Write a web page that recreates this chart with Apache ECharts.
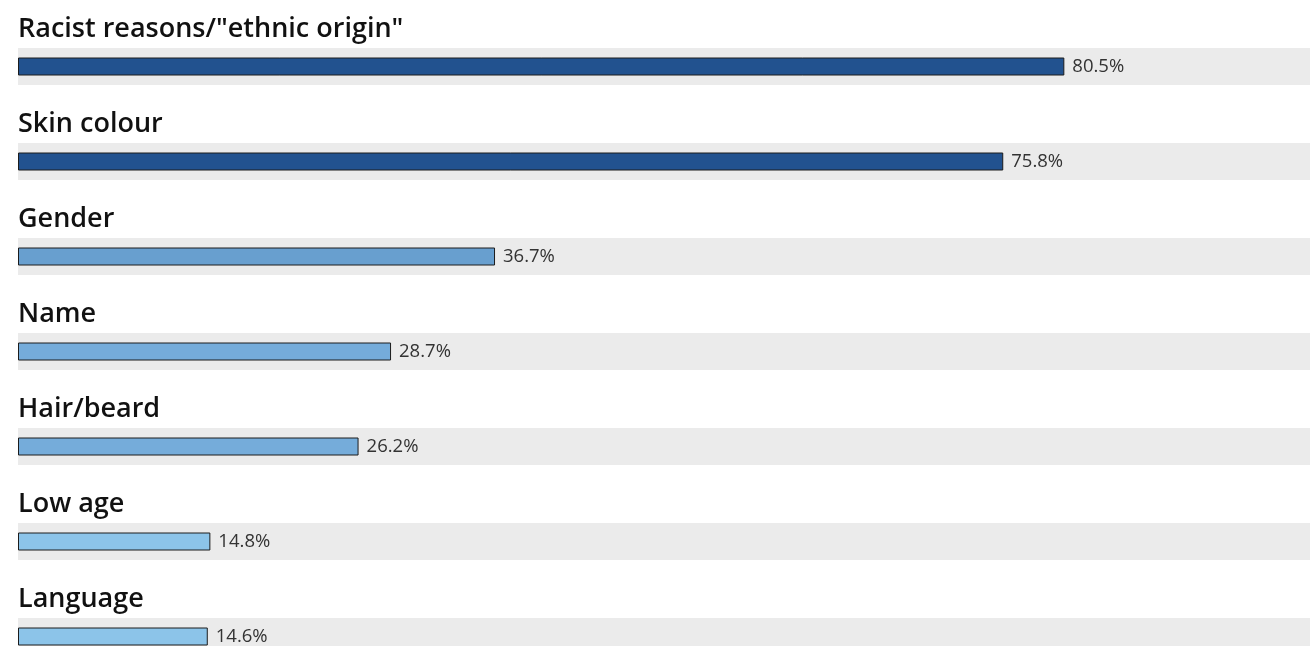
<!DOCTYPE html>
<html>
<head>
<meta charset="utf-8">
<script src="https://cdn.jsdelivr.net/npm/echarts@6/dist/echarts.min.js"></script>
<style>
  html, body { margin: 0; padding: 0; background: #ffffff; }
  #chart { width: 1310px; height: 646px; }
</style>
</head>
<body>
<div id="chart"></div>
<script>
// Reasons for discrimination, share of respondents (%)
const categories = [
  'Racist reasons/"ethnic origin"',
  'Skin colour',
  'Gender',
  'Name',
  'Hair/beard',
  'Low age',
  'Language'
];
const shares = [80.5, 75.8, 36.7, 28.7, 26.2, 14.8, 14.6];
const barColors = ['#22528f', '#22528f', '#689fcf', '#75acda', '#75acda', '#8cc4e9', '#8cc4e9'];
const bandValues = categories.map(() => 100);

const chart = echarts.init(document.getElementById('chart'), null, { renderer: 'canvas' });

chart.setOption({
  animation: false,
  backgroundColor: '#ffffff',
  // category ticks sit on the row centres (boundaryGap off)
  grid: { left: 18, right: 0, top: 66.5, bottom: 9.5, containLabel: false },
  xAxis: {
    type: 'value',
    min: 0,
    max: 99.4,
    show: false
  },
  yAxis: [
    {
      type: 'category',
      data: categories,
      inverse: true,
      boundaryGap: false,
      axisLine: { show: false },
      axisTick: { show: false },
      splitLine: { show: false },
      axisLabel: {
        inside: true,
        margin: 0,
        align: 'left',
        verticalAlign: 'bottom',
        padding: [0, 0, 24, 0],
        fontFamily: 'Open Sans',
        fontWeight: 600,
        fontSize: 27,
        color: '#111111'
      }
    },
    {
      type: 'category',
      data: categories,
      inverse: true,
      boundaryGap: false,
      show: false
    }
  ],
  series: [
    {
      name: 'band',
      type: 'bar',
      yAxisIndex: 1,
      data: bandValues,
      barWidth: 37,
      silent: true,
      itemStyle: { color: '#ebebeb' },
      z: 1
    },
    {
      name: 'share',
      type: 'bar',
      yAxisIndex: 0,
      data: shares.map((v, i) => ({ value: v, itemStyle: { color: barColors[i] } })),
      barWidth: 18,
      itemStyle: { borderColor: '#1c1c1c', borderWidth: 1 },
      label: {
        show: true,
        position: 'right',
        distance: 8,
        fontFamily: 'Open Sans',
        fontSize: 18.5,
        color: '#333333',
        formatter: p => p.value.toFixed(1) + '%'
      },
      z: 2
    }
  ]
});
</script>
</body>
</html>
